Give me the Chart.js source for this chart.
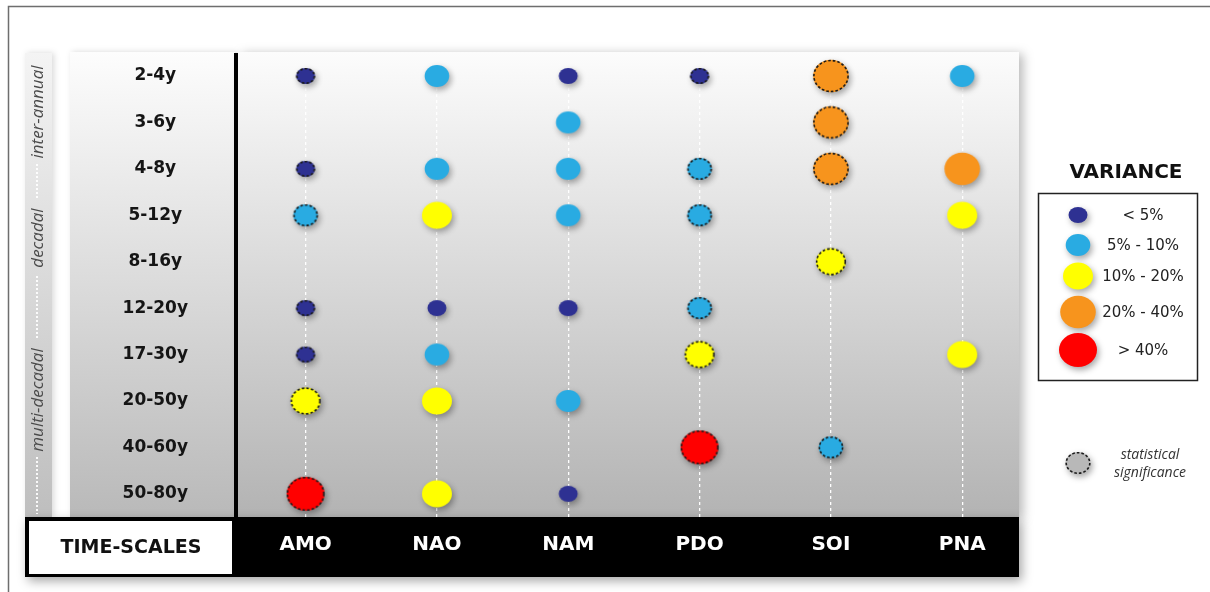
<!DOCTYPE html>
<html><head><meta charset="utf-8">
<script src="https://cdn.jsdelivr.net/npm/chart.js@4.4.1/dist/chart.umd.min.js"></script>
<style>html,body{margin:0;padding:0;background:#fff;overflow:hidden}canvas{display:block}</style>
</head><body>
<canvas id="c" width="1210" height="592"></canvas>
<script>
// ---------- DATA ----------
const timeScales = ['2-4y','3-6y','4-8y','5-12y','8-16y','12-20y','17-30y','20-50y','40-60y','50-80y'];
const climateIndices = ['AMO','NAO','NAM','PDO','SOI','PNA'];
const varianceLabels = ['< 5%','5% - 10%','10% - 20%','20% - 40%','> 40%'];
const bandLabels = ['inter-annual','decadal','multi-decadal'];
const significanceLabel = ['statistical','significance'];
// variance class per time-scale: 0 = none, 1 = <5%, 2 = 5-10%, 3 = 10-20%, 4 = 20-40%, 5 = >40%
const amoVariance = [1,0,1,2,0,1,1,3,0,5];
const naoVariance = [2,0,2,3,0,1,2,3,0,3];
const namVariance = [1,2,2,2,0,1,0,2,0,1];
const pdoVariance = [1,0,2,2,0,2,3,0,5,0];
const soiVariance = [4,4,4,0,3,0,0,0,2,0];
const pnaVariance = [2,0,4,3,0,0,3,0,0,0];
// statistical significance: 1 = significant
const amoSignificant = [1,0,1,1,0,1,1,1,0,1];
const naoSignificant = [0,0,0,0,0,0,0,0,0,0];
const namSignificant = [0,0,0,0,0,0,0,0,0,0];
const pdoSignificant = [1,0,1,1,0,1,1,0,1,0];
const soiSignificant = [1,1,1,0,1,0,0,0,1,0];
const pnaSignificant = [0,0,0,0,0,0,0,0,0,0];

// ---------- STYLE ----------
const classColors = ['#2e3192','#29abe2','#ffff00','#f7941d','#ff0000'];
const classRx = [9.5,12.3,15,17.8,19];
const classRy = [8,11,13.6,16.2,17];

function makeMarker(color, rx, ry, dashed){
  const pad = 10;
  const c = document.createElement('canvas');
  c.width = 2*Math.ceil(rx+pad); c.height = 2*Math.ceil(ry+pad);
  const g = c.getContext('2d');
  const cx = c.width/2, cy = c.height/2;
  g.save();
  g.shadowColor = 'rgba(0,0,0,0.35)'; g.shadowBlur = 6; g.shadowOffsetX = 2; g.shadowOffsetY = 3;
  g.beginPath(); g.ellipse(cx,cy,rx,ry,0,0,Math.PI*2); g.fillStyle = color; g.fill();
  g.restore();
  if (dashed){
    g.beginPath(); g.ellipse(cx,cy,rx-0.7,ry-0.7,0,0,Math.PI*2);
    g.setLineDash([2.6,2]); g.lineWidth = 1.6; g.strokeStyle = '#1b1b1b'; g.stroke();
  }
  return c;
}
const markers = classColors.map((col,i)=>[makeMarker(col,classRx[i],classRy[i],false), makeMarker(col,classRx[i],classRy[i],true)]);
const sigMarker = makeMarker('#b8b8b8',12.5,11,true);

const varianceByIndex = [amoVariance,naoVariance,namVariance,pdoVariance,soiVariance,pnaVariance];
const significanceByIndex = [amoSignificant,naoSignificant,namSignificant,pdoSignificant,soiSignificant,pnaSignificant];

const datasets = climateIndices.map((name,col)=>({
  label: name,
  data: timeScales.map((t,row)=>({x:col, y:row, v:varianceByIndex[col][row], s:significanceByIndex[col][row]})).filter(p=>p.v>0),
  pointStyle: ctx => ctx.raw ? markers[ctx.raw.v-1][ctx.raw.s] : 'circle',
  pointRadius: ctx => ctx.raw ? classRx[ctx.raw.v-1] : 3,
  showLine: false,
  clip: false
}));

function vGrad(ctx, y0, y1, c0, c1){
  const g = ctx.createLinearGradient(0,y0,0,y1); g.addColorStop(0,c0); g.addColorStop(1,c1); return g;
}

const backdrop = {
  id:'backdrop',
  beforeDraw(chart){
    const ctx = chart.ctx, a = chart.chartArea;
    const top = a.top - 24, bot = a.bottom, right = a.right;
    ctx.save();
    ctx.fillStyle = '#fff'; ctx.fillRect(0,0,chart.width,chart.height);
    // outer frame
    ctx.strokeStyle = '#6e6e6e'; ctx.lineWidth = 1.5;
    ctx.beginPath(); ctx.moveTo(8.5,chart.height); ctx.lineTo(8.5,6.5); ctx.lineTo(chart.width,6.5); ctx.stroke();
    // left band strip
    ctx.save();
    ctx.shadowColor='rgba(0,0,0,0.15)'; ctx.shadowBlur=6; ctx.shadowOffsetX=2;
    ctx.fillStyle = vGrad(ctx,top,bot,'#f4f4f4','#bebebe'); ctx.fillRect(25,top+1,27,bot-top-1);
    // time-scale label panel
    ctx.fillStyle = vGrad(ctx,top,bot,'#fdfdfd','#b9b9b9'); ctx.fillRect(70,top,165,bot-top);
    ctx.restore();
    // main panel
    ctx.save();
    ctx.shadowColor='rgba(0,0,0,0.28)'; ctx.shadowBlur=10; ctx.shadowOffsetX=4; ctx.shadowOffsetY=2;
    ctx.fillStyle = vGrad(ctx,top,bot,'#fcfcfc','#b3b3b3'); ctx.fillRect(a.left+2,top,right-a.left-3,bot-top);
    ctx.restore();
    // black separator
    ctx.fillStyle = '#000'; ctx.fillRect(a.left-2,top+1,4,bot-top-1);
    // bottom black bar
    ctx.save();
    ctx.shadowColor='rgba(0,0,0,0.35)'; ctx.shadowBlur=10; ctx.shadowOffsetX=3; ctx.shadowOffsetY=4;
    ctx.fillStyle = '#000'; ctx.fillRect(25,bot,right-1-25,60);
    ctx.restore();
    ctx.fillStyle = '#fff'; ctx.fillRect(29,bot+4,203,53);
    ctx.fillStyle = '#111'; ctx.font = 'bold 19px "DejaVu Sans"'; ctx.textAlign='center'; ctx.textBaseline='middle';
    ctx.fillText('TIME-SCALES',131,bot+31);
    // band labels in the strip
    const bandCenters = [112,238,400];
    ctx.font = 'italic 17px "Open Sans"'; ctx.fillStyle = '#4a4a4a';
    bandLabels.forEach((t,i)=>{
      ctx.save(); ctx.translate(37,bandCenters[i]); ctx.rotate(-Math.PI/2); ctx.fillText(t,0,1); ctx.restore();
    });
    ctx.strokeStyle = '#ffffff'; ctx.lineWidth = 1.8; ctx.setLineDash([2,2]);
    [[164,200],[276,340],[457,514]].forEach(([y0,y1])=>{ctx.beginPath();ctx.moveTo(37,y0);ctx.lineTo(37,y1);ctx.stroke();});
    ctx.restore();
  },
  afterDraw(chart){
    const ctx = chart.ctx;
    ctx.save();
    ctx.textAlign='center'; ctx.textBaseline='middle';
    ctx.fillStyle='#111'; ctx.font='bold 20px "DejaVu Sans"';
    ctx.fillText('VARIANCE',1126,173);
    ctx.strokeStyle='#222'; ctx.lineWidth=1.5; ctx.strokeRect(1038.5,193.5,159,187);
    const ly = [215,245,276,312,350];
    ctx.font='15px "DejaVu Sans"'; ctx.fillStyle='#222';
    varianceLabels.forEach((t,i)=>{
      const m = markers[i][0];
      ctx.drawImage(m, 1078-m.width/2, ly[i]-m.height/2);
      ctx.fillText(t,1143,ly[i]+1);
    });
    ctx.drawImage(sigMarker,1078-sigMarker.width/2,463-sigMarker.height/2);
    ctx.font='italic 14px "Open Sans"'; ctx.fillStyle='#333';
    ctx.fillText(significanceLabel[0],1150,455);
    ctx.fillText(significanceLabel[1],1150,473);
    ctx.restore();
  }
};

new Chart(document.getElementById('c'),{
  type:'scatter',
  data:{datasets},
  plugins:[backdrop],
  options:{
    responsive:false, animation:false, devicePixelRatio:1, events:[],
    layout:{padding:{left:70,right:190,top:76,bottom:15}},
    plugins:{legend:{display:false},tooltip:{enabled:false}},
    scales:{
      x:{
        type:'linear', position:'bottom', min:-0.53, max:5.44,
        afterBuildTicks: s => { s.ticks = climateIndices.map((_,i)=>({value:i})); },
        afterFit: s => { s.height = 60; },
        ticks:{callback:v=>climateIndices[v], color:'#fff', font:{family:'DejaVu Sans',weight:'bold',size:20}, padding:16, maxRotation:0, autoSkip:false},
        grid:{color:'#ffffff', lineWidth:1.3, drawTicks:false},
        border:{display:false, dash:[3,3]}
      },
      y:{
        type:'linear', position:'left', reverse:true, min:0, max:9.5,
        afterBuildTicks: s => { s.ticks = timeScales.map((_,i)=>({value:i})); },
        afterFit: s => { s.width = 166; },
        ticks:{callback:v=>timeScales[v], color:'#151515', font:{family:'DejaVu Sans',weight:'bold',size:17}, crossAlign:'center', padding:48, autoSkip:false},
        grid:{display:false, drawTicks:false},
        border:{display:false}
      }
    }
  }
});
</script>
</body></html>
